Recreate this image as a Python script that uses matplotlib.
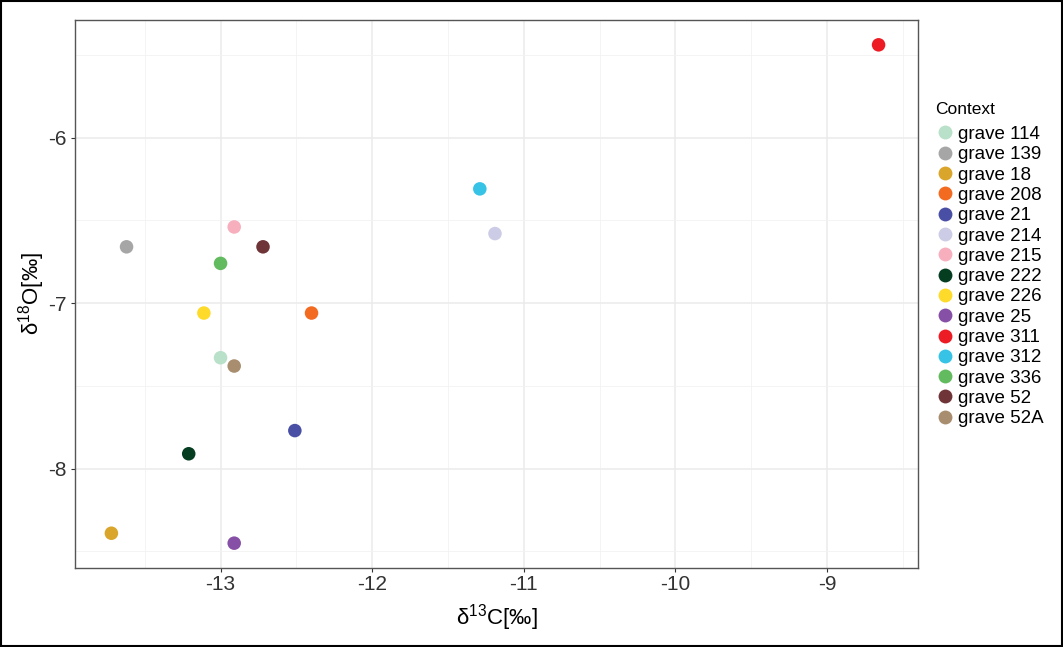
import matplotlib
matplotlib.use("Agg")
import matplotlib.pyplot as plt
from matplotlib.lines import Line2D
from matplotlib.patches import Rectangle

plt.rcParams['font.family'] = ['Liberation Sans', 'DejaVu Sans']

# data
contexts = ['grave 114', 'grave 139', 'grave 18', 'grave 208', 'grave 21',
            'grave 214', 'grave 215', 'grave 222', 'grave 226', 'grave 25',
            'grave 311', 'grave 312', 'grave 336', 'grave 52', 'grave 52A']
d13c = [-13.00, -13.62, -13.72, -12.40, -12.51,
        -11.19, -12.91, -13.21, -13.11, -12.91,
        -8.66, -11.29, -13.00, -12.72, -12.91]
d18o = [-7.33, -6.66, -8.39, -7.06, -7.77,
        -6.58, -6.54, -7.91, -7.06, -8.45,
        -5.44, -6.31, -6.76, -6.66, -7.38]
colors = ['#b9e0c8', '#a6a6a6', '#daa52b', '#f26b21', '#4a4fa6',
          '#cccce6', '#f7afbd', '#053d21', '#fedb2a', '#8650a6',
          '#ed1c24', '#36c3e6', '#62bb5e', '#6f3438', '#a88e6f']

W, H = 1063, 647
fig = plt.figure(figsize=(W / 100, H / 100), dpi=100)
ax = fig.add_axes([75 / W, (H - 568) / H, (918 - 75) / W, (568 - 20) / H])

for x, y, c in zip(d13c, d18o, colors):
    ax.scatter(x, y, s=95, color=c, edgecolors='none', zorder=3)

ax.set_xlim(-13.96, -8.40)
ax.set_ylim(-8.60, -5.29)
ax.set_xticks([-13, -12, -11, -10, -9])
ax.set_yticks([-8, -7, -6])
ax.set_xticks([-13.5, -12.5, -11.5, -10.5, -9.5, -8.5], minor=True)
ax.set_yticks([-8.5, -7.5, -6.5, -5.5], minor=True)
ax.set_xticklabels(['-13', '-12', '-11', '-10', '-9'])
ax.set_yticklabels(['-8', '-7', '-6'])
ax.grid(which='major', color='#ebebeb', linewidth=1.1, zorder=0)
ax.grid(which='minor', color='#f2f2f2', linewidth=0.6, zorder=0)
ax.set_axisbelow(True)
ax.tick_params(which='major', length=3, width=0.8, color='#333333',
               labelsize=15, labelcolor='#333333', pad=2)
ax.tick_params(axis='y', pad=3)
ax.tick_params(which='minor', length=0)
for sp in ax.spines.values():
    sp.set_color('#555555')
    sp.set_linewidth(1.0)

ax.set_xlabel('δ$^{\\mathregular{13}}$C[‰]', fontsize=16, labelpad=6)
ax.set_ylabel('δ$^{\\mathregular{18}}$O[‰]', fontsize=16, labelpad=1)

handles = [Line2D([], [], marker='o', linestyle='none', markersize=10,
                  markerfacecolor=c, markeredgecolor='none') for c in colors]
leg = fig.legend(handles, contexts, title='Context', loc='upper left',
                 bbox_to_anchor=(928 / W, 1 - 95 / H), frameon=False,
                 fontsize=13.5, title_fontsize=12.5, handletextpad=0.2,
                 labelspacing=0.17, handlelength=1.0, borderaxespad=0)
leg._legend_box.align = 'left'
leg._legend_box.sep = 6

# outer frame of the image
fig.patches.append(Rectangle((0.001, 0.001), 0.998, 0.997, transform=fig.transFigure,
                             fill=False, edgecolor='black', linewidth=1.5))

fig.savefig('out.png', dpi=100)
